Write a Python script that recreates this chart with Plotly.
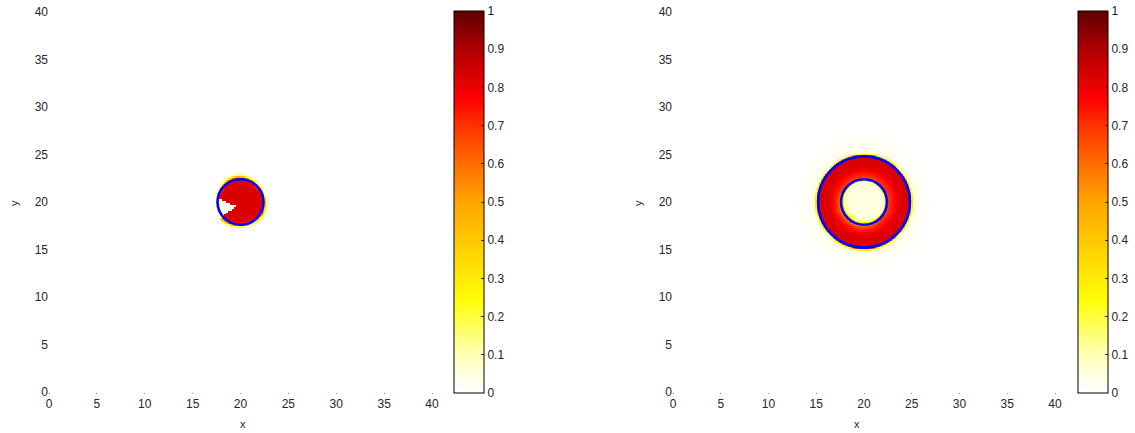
import numpy as np
import plotly.graph_objects as go

# ---------------- data ----------------
grid_x = np.linspace(0, 40, 201)
grid_y = np.linspace(0, 40, 201)

# left panel: disc with a notch
disc_center = [20.0, 20.0]
disc_radius = 2.55          # edge of the filled region
disc_level = 0.83
disc_width = 0.22
notch_vertices = [[16.9, 20.7], [19.45, 19.6], [17.6, 17.9]]
left_circle = [20.0, 20.0, 2.4]     # cx, cy, r of blue contour

# right panel: annulus
ring_center = [20.0, 20.0]
ring_outer = 4.95
ring_inner = 2.3
ring_level_in = 0.7
ring_level_out = 0.83
hole_level = 0.05
right_circles = [[20.0, 20.0, 4.8], [20.0, 20.0, 2.4]]

x_ticks = [0, 5, 10, 15, 20, 25, 30, 35, 40]
y_ticks = [0, 5, 10, 15, 20, 25, 30, 35, 40]
cbar_ticks = [0, 0.1, 0.2, 0.3, 0.4, 0.5, 0.6, 0.7, 0.8, 0.9, 1]
cbar_labels = ["0", "0.1", "0.2", "0.3", "0.4", "0.5", "0.6", "0.7", "0.8", "0.9", "1"]

colorscale = [
    [0.0, "rgb(255,255,255)"],
    [0.05, "rgb(255,255,225)"],
    [0.12, "rgb(255,255,160)"],
    [0.24, "rgb(255,255,10)"],
    [0.4, "rgb(255,200,0)"],
    [0.5, "rgb(255,165,0)"],
    [0.6, "rgb(255,110,0)"],
    [0.7, "rgb(255,50,0)"],
    [0.77, "rgb(255,0,0)"],
    [0.9, "rgb(175,0,0)"],
    [1.0, "rgb(95,0,0)"],
]

# ---------------- fields ----------------
X, Y = np.meshgrid(grid_x, grid_y)

# left
dx, dy = X - disc_center[0], Y - disc_center[1]
r = np.hypot(dx, dy)
th = np.arctan2(dy, dx)
R1 = disc_radius + 0.1 * np.cos(3 * th + 1.0)
f1 = disc_level * 0.5 * (1 - np.tanh((r - R1) / disc_width))


def in_triangle(px, py, tri):
    (x1, y1), (x2, y2), (x3, y3) = tri
    d1 = (px - x2) * (y1 - y2) - (x1 - x2) * (py - y2)
    d2 = (px - x3) * (y2 - y3) - (x2 - x3) * (py - y3)
    d3 = (px - x1) * (y3 - y1) - (x3 - x1) * (py - y1)
    neg = (d1 < 0) | (d2 < 0) | (d3 < 0)
    pos = (d1 > 0) | (d2 > 0) | (d3 > 0)
    return ~(neg & pos)


mask = in_triangle(X, Y, notch_vertices)
f1[mask] = 0.02

# right
dx, dy = X - ring_center[0], Y - ring_center[1]
r = np.hypot(dx, dy)
th = np.arctan2(dy, dx)
w_in = 0.15 + 0.18 * np.clip(np.cos(th + 3 * np.pi / 4), 0, None)
outer = 0.5 * (1 - np.tanh((r - ring_outer) / 0.17))
inner = 0.5 * (1 + np.tanh((r - ring_inner) / w_in))
t = np.clip((r - 2.4) / 1.6, 0, 1)
lvl = ring_level_in + (ring_level_out - ring_level_in) * (3 * t**2 - 2 * t**3)
hole = hole_level * (1 - inner) * (r < ring_inner + 0.5)
halo = 0.03 * np.exp(-((r - ring_outer) / 1.6) ** 2) * (r > ring_outer)
f2 = lvl * outer * inner + hole + halo

# ---------------- figure ----------------
W, H = 1135, 433
tick_font = dict(family="Liberation Sans, Arial, sans-serif", size=12, color="#262626")
lab_font = dict(family="Liberation Sans, Arial, sans-serif", size=11, color="#262626")


def cbar(xpix):
    return dict(
        x=xpix / W, xanchor="left", xref="paper", xpad=0,
        y=(H - 393) / H, yanchor="bottom", ypad=0,
        len=(393 - 11) / H, lenmode="fraction",
        thickness=30, thicknessmode="pixels",
        outlinewidth=1, outlinecolor="black",
        tickvals=cbar_ticks, ticktext=cbar_labels,
        ticks="inside", ticklen=3, tickcolor="#333",
        tickfont=tick_font,
    )


fig = go.Figure()
fig.add_trace(go.Heatmap(x=grid_x, y=grid_y, z=f1, zmin=0, zmax=1,
                         colorscale=colorscale, colorbar=cbar(454),
                         xaxis="x", yaxis="y", hoverinfo="skip"))
fig.add_trace(go.Heatmap(x=grid_x, y=grid_y, z=f2, zmin=0, zmax=1,
                         colorscale=colorscale, colorbar=cbar(1078),
                         xaxis="x2", yaxis="y2", hoverinfo="skip"))

shapes = []
for (cx, cy, rr), (xr, yr) in [(left_circle, ("x", "y"))] + [(c, ("x2", "y2")) for c in right_circles]:
    shapes.append(dict(type="circle", xref=xr, yref=yr,
                       x0=cx - rr, x1=cx + rr, y0=cy - rr, y1=cy + rr,
                       line=dict(color="rgb(0,0,255)", width=2.6)))

y_dom = [(H - 392) / H, (H - 12) / H]
ax_common = dict(range=[0, 40], showgrid=False, zeroline=False, showline=False,
                 tickfont=tick_font, fixedrange=True)
fig.update_layout(
    width=W, height=H,
    margin=dict(l=0, r=0, t=0, b=0, autoexpand=False),
    paper_bgcolor="white", plot_bgcolor="white",
    showlegend=False,
    xaxis=dict(domain=[49 / W, 432 / W], anchor="y", tickvals=x_ticks,
               ticks="outside", ticklen=1, tickcolor="#888", **ax_common),
    yaxis=dict(domain=y_dom, anchor="x", tickvals=y_ticks, ticks="", **ax_common),
    xaxis2=dict(domain=[673 / W, 1055 / W], anchor="y2", tickvals=x_ticks,
                ticks="outside", ticklen=1, tickcolor="#888", **ax_common),
    yaxis2=dict(domain=y_dom, anchor="x2", tickvals=y_ticks, ticks="", **ax_common),
    shapes=shapes,
    annotations=[
        dict(text="x", x=238 / W, y=(H - 424) / H, xref="paper", yref="paper",
             yanchor="middle", showarrow=False, font=lab_font),
        dict(text="y", x=14 / W, y=(H - 203) / H, xref="paper", yref="paper",
             xanchor="center", showarrow=False, textangle=-90, font=lab_font),
        dict(text="x", x=862 / W, y=(H - 424) / H, xref="paper", yref="paper",
             yanchor="middle", showarrow=False, font=lab_font),
        dict(text="y", x=638 / W, y=(H - 203) / H, xref="paper", yref="paper",
             xanchor="center", showarrow=False, textangle=-90, font=lab_font),
    ],
)

fig.write_html("out.html")
